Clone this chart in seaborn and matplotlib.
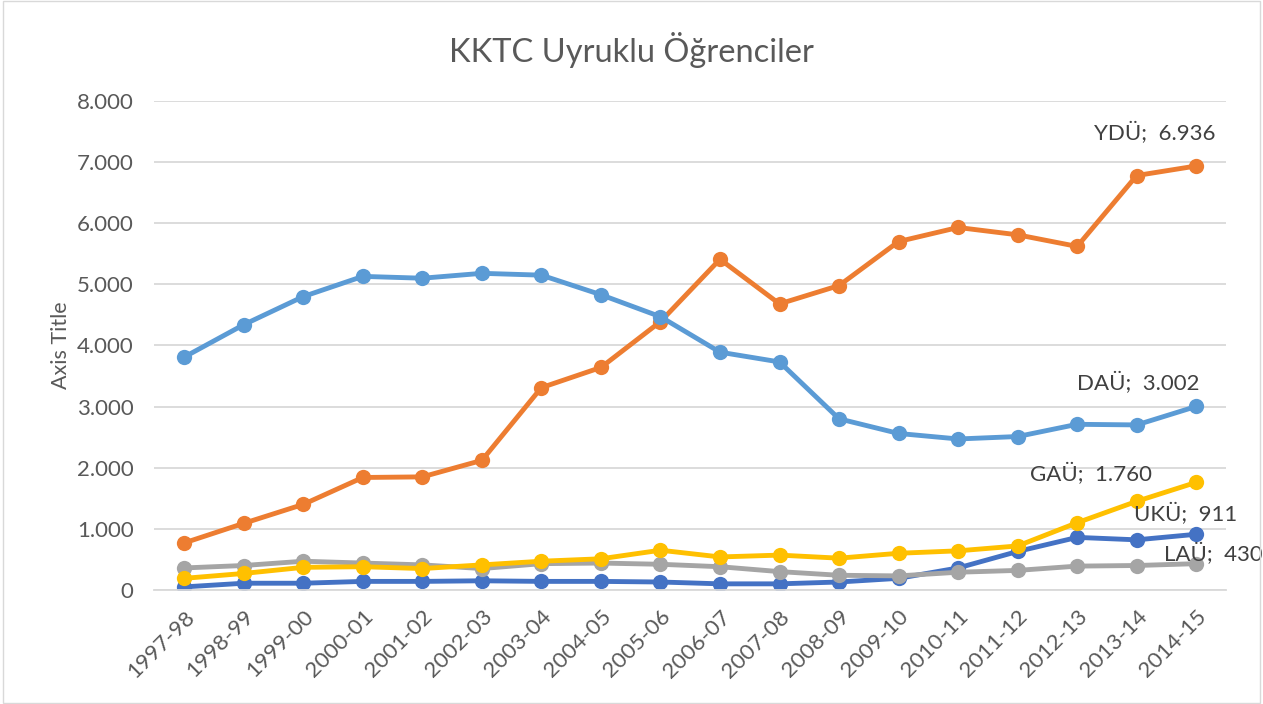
import pandas as pd
import numpy as np
import matplotlib.pyplot as plt
import seaborn as sns
from matplotlib.ticker import FuncFormatter

years = ['1997-98', '1998-99', '1999-00', '2000-01', '2001-02', '2002-03',
         '2003-04', '2004-05', '2005-06', '2006-07', '2007-08', '2008-09',
         '2009-10', '2010-11', '2011-12', '2012-13', '2013-14', '2014-15']

uku = [50, 110, 110, 140, 140, 150, 140, 140, 130, 100, 100, 130, 190, 360, 630, 860, 820, 911]
ydu = [770, 1090, 1400, 1840, 1850, 2120, 3310, 3640, 4390, 5410, 4680, 4980, 5700, 5930, 5810, 5620, 6780, 6936]
lau = [360, 400, 470, 440, 410, 350, 430, 440, 420, 380, 300, 240, 230, 290, 320, 390, 400, 430]
gau = [190, 270, 370, 380, 350, 410, 470, 510, 650, 540, 570, 520, 600, 640, 720, 1100, 1450, 1760]
dau = [3810, 4340, 4800, 5130, 5100, 5180, 5150, 4830, 4470, 3890, 3730, 2800, 2560, 2470, 2510, 2710, 2700, 3002]

names = ['UKÜ', 'YDÜ', 'LAÜ', 'GAÜ', 'DAÜ']
colors = ['#4472C4', '#ED7D31', '#A5A5A5', '#FFC000', '#5B9BD5']

series = dict(zip(names, [uku, ydu, lau, gau, dau]))
rows = []
for name, vals in series.items():
    for i, v in enumerate(vals):
        rows.append({'x': i, 'year': years[i], 'value': v, 'uni': name})
df = pd.DataFrame(rows)

sns.set_style('white')
plt.rcParams['font.family'] = ['Lato', 'DejaVu Sans']
text_color = '#595959'

fig = plt.figure(figsize=(12.63, 7.04), dpi=100)
ax = fig.add_axes([0.1223, 0.162, 0.8484, 0.6946])

sns.lineplot(data=df, x='x', y='value', hue='uni', hue_order=names,
             palette=colors, marker='o', markersize=11, markeredgewidth=0,
             linewidth=3.5, legend=False, ax=ax)

ax.set_xlim(-0.5, len(years) - 0.5)
ax.set_ylim(0, 8000)
ax.set_yticks(np.arange(0, 8001, 1000))
ax.yaxis.set_major_formatter(FuncFormatter(lambda v, p: f'{int(v):,}'.replace(',', '.')))
ax.set_xticks(range(len(years)))
ax.set_xticklabels(years, rotation=45, ha='right', rotation_mode='anchor')
ax.tick_params(axis='both', colors=text_color, labelsize=16, length=0)
ax.tick_params(axis='x', pad=12)
ax.tick_params(axis='y', pad=15)
ax.grid(axis='y', color='#D9D9D9', linewidth=1.3)
ax.set_axisbelow(True)
for s in ['top', 'right', 'left']:
    ax.spines[s].set_visible(False)
ax.spines['bottom'].set_color('#D9D9D9')
ax.spines['bottom'].set_linewidth(1.3)

ax.set_xlabel('')
ax.set_ylabel('Axis Title', fontsize=15.5, color=text_color)
ax.yaxis.set_label_coords(-0.078, 0.5)
fig.suptitle('KKTC Uyruklu Öğrenciler', fontsize=23.5, color=text_color, y=0.955)

last = len(years) - 1
# (dx in categories, dy in data units) for the right edge of each label
labels = {
    'YDÜ': (0.32, 540),
    'DAÜ': (0.05, 384),
    'GAÜ': (-0.74, 138),
    'UKÜ': (0.69, 332),
    'LAÜ': (1.11, 159),
}
for name, (dx, dy) in labels.items():
    v = series[name][last]
    txt = f'{v:,}'.replace(',', '.')
    ax.text(last + dx, v + dy, f'{name};  {txt}', fontsize=16, color='#404040',
            ha='right', va='center', clip_on=False)

border = plt.Rectangle((0.002, 0.002), 0.996, 0.996, transform=fig.transFigure,
                       fill=False, edgecolor='#D9D9D9', linewidth=1)
fig.patches.append(border)

fig.savefig('out.png', dpi=100)
